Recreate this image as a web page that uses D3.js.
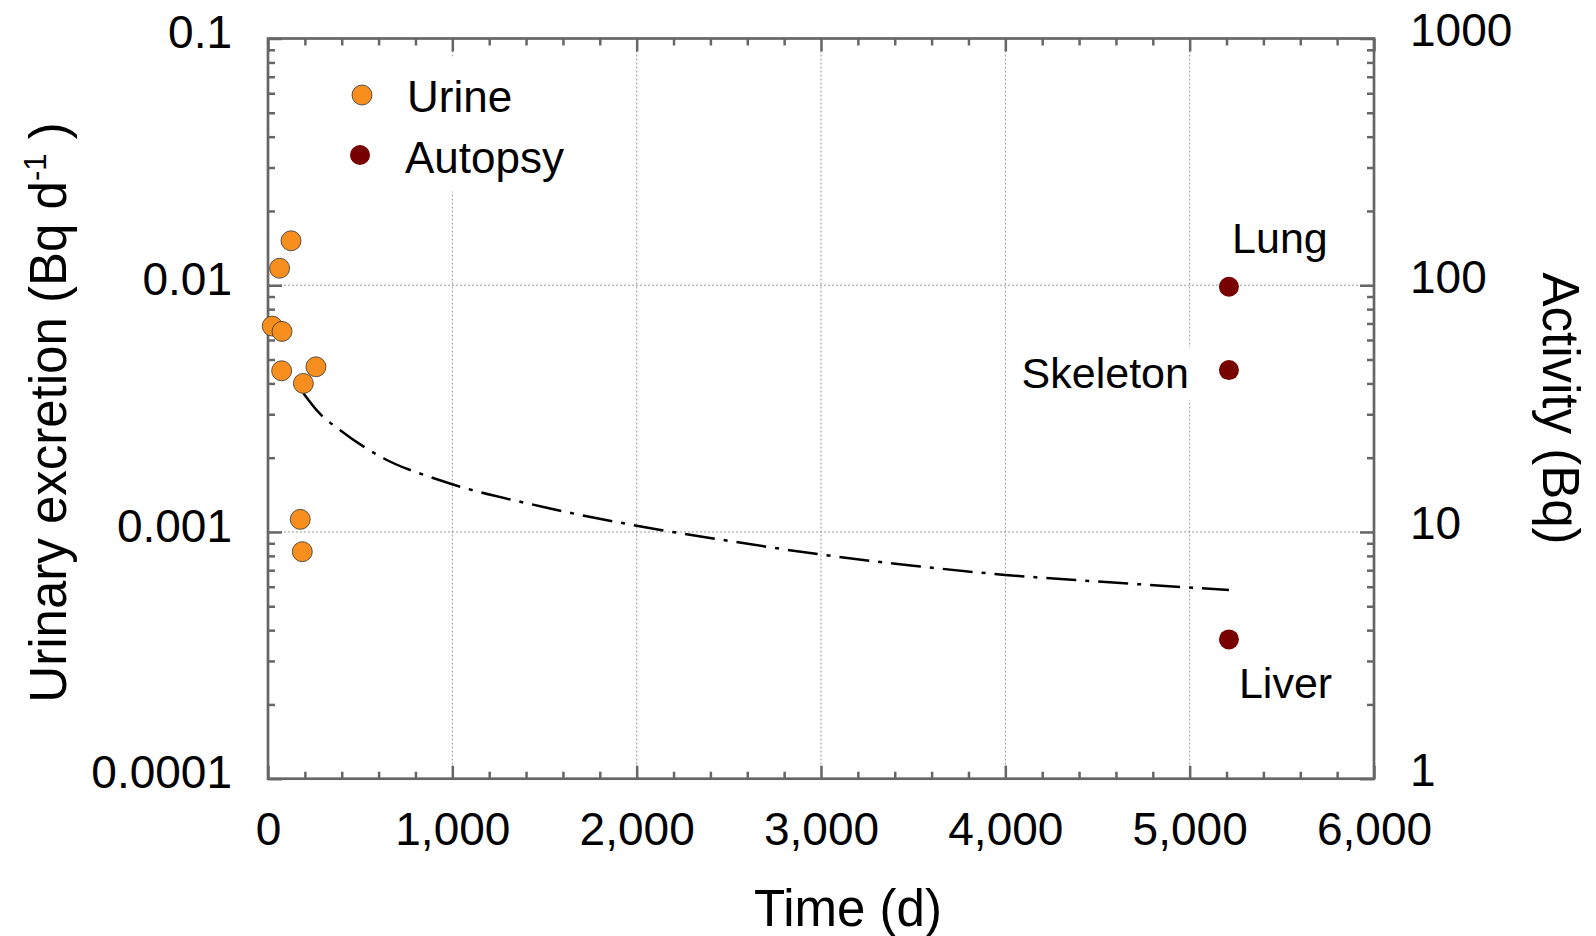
<!DOCTYPE html>
<html>
<head>
<meta charset="utf-8">
<script src="https://cdn.jsdelivr.net/npm/d3@7"></script>
<style>
    body { margin: 0; background: #fff; }
    svg { font-family: 'Liberation Sans', Arial, sans-serif; }
</style>
</head>
<body>
<div id="chart"></div>
<script>
// urine bioassay samples (time in d, excretion in Bq/d)
const urineTime = [23, 63, 125, 76, 74, 192, 260, 175, 186];
const urineExcretion = [0.00683, 0.01172, 0.01514, 0.0065, 0.0045, 0.0040, 0.00467, 0.001125, 0.000832];

// autopsy results (right axis, Bq)
const organs = ['Lung', 'Skeleton', 'Liver'];
const autopsyTime = [5213, 5213, 5213];
const autopsyActivity = [98.6, 45.3, 3.67];

// model prediction
const modelTime = [192, 275, 390, 626, 933, 1500, 2000, 2500, 3000, 3500, 4000, 4500, 5213];
const modelExcretion = [0.00365, 0.00305, 0.00259, 0.00199, 0.00162, 0.00126, 0.00106, 0.00092, 0.00081, 0.00073, 0.00067, 0.00063, 0.000582];

// tick labels
const xTicks = [0, 1000, 2000, 3000, 4000, 5000, 6000];
const yLeftTicks = [0.1, 0.01, 0.001, 0.0001];
const yRightTicks = [1000, 100, 10, 1];

// label placement for the organ names (dx, dy, anchor)
const organLabel = {
    Lung: {dx: 51, dy: -34, anchor: 'middle'},
    Skeleton: {dx: -40, dy: 18, anchor: 'end'},
    Liver: {dx: 10, dy: 59, anchor: 'start'}
};

const width = 1596, height = 936;
const margin = {t: 38.5, r: 222, b: 157.3, l: 268};
const w = width - margin.l - margin.r;
const h = height - margin.t - margin.b;

const orange = '#f78e1e';
const maroon = '#780000';
const axisColor = '#666';

const svg = d3.select('#chart')
    .append('svg')
    .attr('width', width)
    .attr('height', height);

const plot = svg.append('g')
    .attr('transform', `translate(${margin.l},${margin.t})`);

// scales
const scaleX = d3.scaleLinear().domain([0, 6000]).range([0, w]);
const scaleY = d3.scaleLog().domain([0.0001, 0.1]).range([h, 0]);
const scaleYR = d3.scaleLog().domain([1, 1000]).range([h, 0]);

const isDecade = d => Math.abs(Math.log10(d) - Math.round(Math.log10(d))) < 1e-6;
const minorX = d3.range(0, 6001, 200).filter(d => d % 1000 !== 0);
const minorY = scaleY.ticks().filter(d => !isDecade(d));
const minorYR = scaleYR.ticks().filter(d => !isDecade(d));

// gridlines
plot.append('g')
    .selectAll('line')
    .data(xTicks.slice(1, -1))
    .join('line')
    .attr('x1', d => scaleX(d)).attr('x2', d => scaleX(d))
    .attr('y1', 0).attr('y2', h)
    .attr('stroke', '#9a9a9a')
    .attr('stroke-width', 1)
    .attr('stroke-dasharray', '2,2');

plot.append('g')
    .selectAll('line')
    .data(yLeftTicks.slice(1, -1))
    .join('line')
    .attr('x1', 0).attr('x2', w)
    .attr('y1', d => scaleY(d)).attr('y2', d => scaleY(d))
    .attr('stroke', '#9a9a9a')
    .attr('stroke-width', 1)
    .attr('stroke-dasharray', '2,2');

// axes
function styleAxis(g) {
    g.select('.domain').remove();
    g.selectAll('.tick line').attr('stroke', axisColor).attr('stroke-width', 2.5);
    g.selectAll('.tick text')
        .attr('fill', '#000')
        .attr('font-size', 46)
        .attr('font-family', "'Liberation Sans', Arial, sans-serif");
}

plot.append('g')
    .attr('transform', `translate(0,${h})`)
    .call(d3.axisBottom(scaleX).tickValues(xTicks).tickSize(-13).tickPadding(34).tickFormat(d3.format(',')))
    .call(styleAxis);
plot.append('g')
    .attr('transform', `translate(0,${h})`)
    .call(d3.axisBottom(scaleX).tickValues(minorX).tickSize(-7).tickFormat(''))
    .call(styleAxis);
plot.append('g')
    .call(d3.axisTop(scaleX).tickValues(xTicks).tickSize(-13).tickFormat(''))
    .call(styleAxis);
plot.append('g')
    .call(d3.axisTop(scaleX).tickValues(minorX).tickSize(-7).tickFormat(''))
    .call(styleAxis);

plot.append('g')
    .call(d3.axisLeft(scaleY).tickValues(yLeftTicks).tickSize(-14).tickPadding(36).tickFormat(d => String(d)))
    .call(styleAxis)
    .selectAll('.tick text').attr('dy', '0.2em');
plot.append('g')
    .call(d3.axisLeft(scaleY).tickValues(minorY).tickSize(-7).tickFormat(''))
    .call(styleAxis);

plot.append('g')
    .attr('transform', `translate(${w},0)`)
    .call(d3.axisRight(scaleYR).tickValues(yRightTicks).tickSize(-14).tickPadding(36).tickFormat(d => String(d)))
    .call(styleAxis)
    .selectAll('.tick text').attr('dy', '0.15em');
plot.append('g')
    .attr('transform', `translate(${w},0)`)
    .call(d3.axisRight(scaleYR).tickValues(minorYR).tickSize(-7).tickFormat(''))
    .call(styleAxis);

// frame
plot.append('rect')
    .attr('width', w).attr('height', h)
    .attr('fill', 'none')
    .attr('stroke', axisColor)
    .attr('stroke-width', 2.7);

// legend (white box hides the gridline behind it)
const legend = plot.append('g');
legend.append('rect')
    .attr('x', 62).attr('y', 18)
    .attr('width', 250).attr('height', 135)
    .attr('fill', '#fff');
const legendItems = [
    {name: 'Urine', color: orange, stroke: '#333'},
    {name: 'Autopsy', color: maroon, stroke: 'none'}
];
legend.selectAll('circle')
    .data(legendItems)
    .join('circle')
    .attr('cx', (d, i) => 94 - i * 2)
    .attr('cy', (d, i) => 56.5 + i * 60)
    .attr('r', 10)
    .attr('fill', d => d.color)
    .attr('stroke', d => d.stroke)
    .attr('stroke-width', 0.8);
legend.selectAll('text')
    .data(legendItems)
    .join('text')
    .attr('x', (d, i) => 139 - i * 2)
    .attr('y', (d, i) => 73.5 + i * 61)
    .attr('font-size', 44)
    .text(d => d.name);

// model curve
const model = modelTime.map((t, i) => ({t, v: modelExcretion[i]}));
const line = d3.line()
    .x(d => scaleX(d.t))
    .y(d => scaleY(d.v))
    .curve(d3.curveMonotoneX);
plot.append('path')
    .datum(model)
    .attr('d', line)
    .attr('fill', 'none')
    .attr('stroke', '#000')
    .attr('stroke-width', 2.5)
    .attr('stroke-dasharray', '30,9,4,9');

// urine points
const urine = urineTime.map((t, i) => ({t, v: urineExcretion[i]}));
plot.append('g')
    .selectAll('circle')
    .data(urine)
    .join('circle')
    .attr('cx', d => scaleX(d.t))
    .attr('cy', d => scaleY(d.v))
    .attr('r', 10)
    .attr('fill', orange)
    .attr('stroke', '#333')
    .attr('stroke-width', 0.8);

// autopsy points + labels
const autopsy = organs.map((o, i) => ({organ: o, t: autopsyTime[i], v: autopsyActivity[i]}));
const organG = plot.append('g');
const skel = autopsy.find(d => d.organ === 'Skeleton');
organG.append('rect')
    .attr('x', scaleX(skel.t) - 212).attr('y', scaleYR(skel.v) - 23)
    .attr('width', 181).attr('height', 53)
    .attr('fill', '#fff');
organG.selectAll('circle')
    .data(autopsy)
    .join('circle')
    .attr('cx', d => scaleX(d.t))
    .attr('cy', d => scaleYR(d.v))
    .attr('r', 10)
    .attr('fill', maroon);
organG.selectAll('text')
    .data(autopsy)
    .join('text')
    .attr('x', d => scaleX(d.t) + organLabel[d.organ].dx)
    .attr('y', d => scaleYR(d.v) + organLabel[d.organ].dy)
    .attr('text-anchor', d => organLabel[d.organ].anchor)
    .attr('font-size', 43)
    .text(d => d.organ);

// axis titles
svg.append('text')
    .attr('x', 848)
    .attr('y', 926)
    .attr('text-anchor', 'middle')
    .attr('font-size', 51)
    .text('Time (d)');

const yTitle = svg.append('text')
    .attr('transform', `translate(66,${margin.t + 374}) rotate(-90)`)
    .attr('text-anchor', 'middle')
    .attr('font-size', 51);
yTitle.append('tspan').text('Urinary excretion (Bq d');
yTitle.append('tspan').attr('font-size', 31).attr('dy', -20).text('-1');
yTitle.append('tspan').attr('dy', 20).text(' )');

svg.append('text')
    .attr('transform', `translate(1543,${margin.t + 370}) rotate(90)`)
    .attr('text-anchor', 'middle')
    .attr('font-size', 51)
    .text('Activity (Bq)');
</script>
</body>
</html>
